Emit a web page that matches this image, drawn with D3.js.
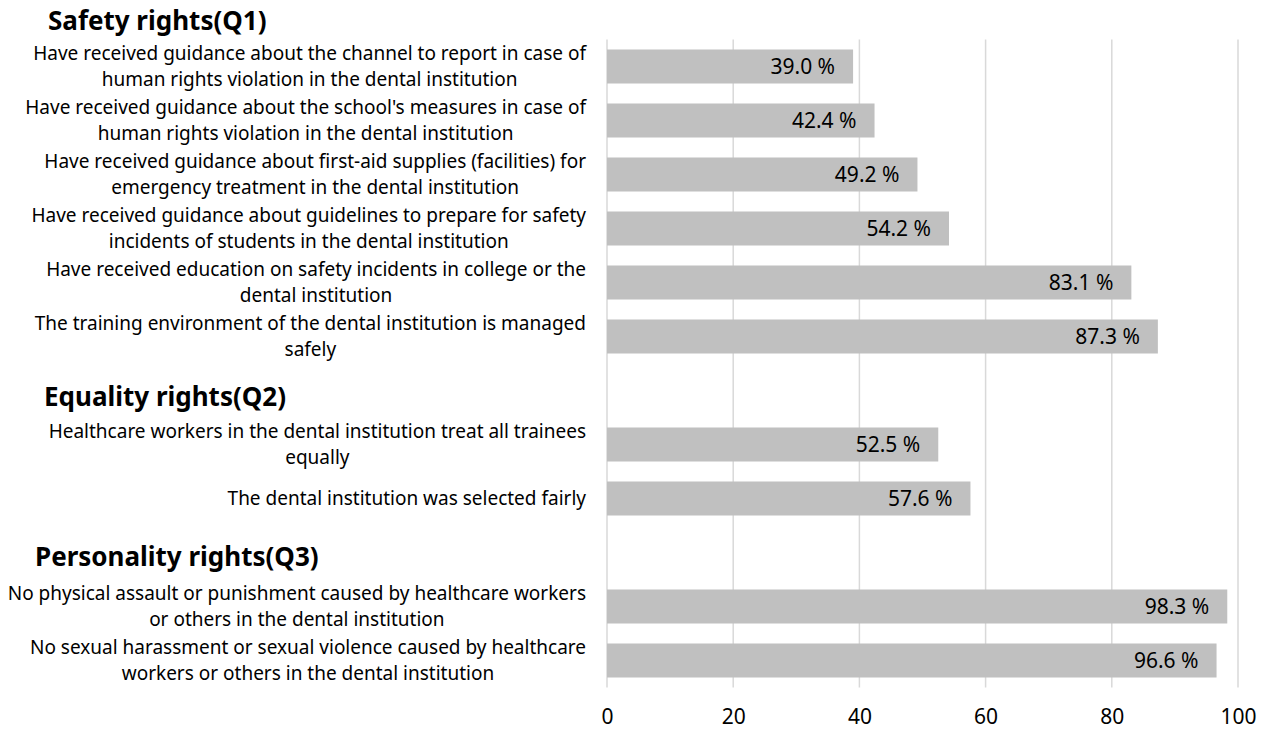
<!DOCTYPE html>
<html>
<head>
<meta charset="utf-8">
<script src="https://cdn.jsdelivr.net/npm/d3@7"></script>
<style>
  body { margin: 0; background: #fff; }
  text { font-family: "Noto Sans", sans-serif; fill: #000; }
</style>
</head>
<body>
<div id="chart"></div>
<script>
// data
var sections = ["Safety rights(Q1)", "Equality rights(Q2)", "Personality rights(Q3)"];
var labels = [
  ["Have received guidance about the channel to report in case of", "human rights violation in the dental institution"],
  ["Have received guidance about the school's measures in case of", "human rights violation in the dental institution"],
  ["Have received guidance about first-aid supplies (facilities) for", "emergency treatment in the dental institution"],
  ["Have received guidance about guidelines to prepare for safety", "incidents of students in the dental institution"],
  ["Have received education on safety incidents in college or the", "dental institution"],
  ["The training environment of the dental institution is managed", "safely"],
  ["Healthcare workers in the dental institution treat all trainees", "equally"],
  ["The dental institution was selected fairly"],
  ["No physical assault or punishment caused by healthcare workers", "or others in the dental institution"],
  ["No sexual harassment or sexual violence caused by healthcare", "workers or others in the dental institution"]
];
var groups = [0, 0, 0, 0, 0, 0, 1, 1, 2, 2];
var values = [39.0, 42.4, 49.2, 54.2, 83.1, 87.3, 52.5, 57.6, 98.3, 96.6];
var xTicks = [0, 20, 40, 60, 80, 100];

var width = 1266, height = 730;
var plot = {left: 607, right: 1238, top: 39.5, bottom: 687.5};
var labelRight = 586;

// slots: one per bar, plus an empty slot before each new section
var slots = [];
groups.forEach(function(g, i) {
  if (i > 0 && g !== groups[i - 1]) slots.push("gap" + g);
  slots.push("row" + i);
});

var x = d3.scaleLinear().domain([0, 100]).range([plot.left, plot.right]);
var y = d3.scaleBand().domain(slots).range([plot.top, plot.bottom]).paddingInner(0.37).paddingOuter(0.185);

var svg = d3.select("#chart").append("svg")
  .attr("width", width).attr("height", height);

// gridlines
svg.append("g").selectAll("line")
  .data(xTicks)
  .join("line")
  .attr("x1", function(d) { return x(d); })
  .attr("x2", function(d) { return x(d); })
  .attr("y1", plot.top)
  .attr("y2", plot.bottom)
  .attr("stroke", "#d9d9d9")
  .attr("stroke-width", 1.5);

// bars
svg.append("g").selectAll("rect")
  .data(values)
  .join("rect")
  .attr("x", x(0))
  .attr("y", function(d, i) { return y("row" + i); })
  .attr("width", function(d) { return x(d) - x(0); })
  .attr("height", y.bandwidth())
  .attr("fill", "#c0c0c0");

// value labels inside bar ends
svg.append("g").selectAll("text")
  .data(values)
  .join("text")
  .attr("x", function(d) { return x(d) - 18; })
  .attr("y", function(d, i) { return y("row" + i) + y.bandwidth() / 2; })
  .attr("dy", "0.35em")
  .attr("text-anchor", "end")
  .attr("font-size", "21px")
  .text(function(d) { return d.toFixed(1) + " %"; });

// x axis tick labels
var xAxis = d3.axisBottom(x).tickValues(xTicks).tickSize(0).tickPadding(0);
var ax = svg.append("g")
  .attr("transform", "translate(0," + (plot.bottom + 29) + ")")
  .call(xAxis);
ax.select(".domain").remove();
ax.selectAll("text")
  .attr("font-size", "21px")
  .attr("font-family", "Noto Sans, sans-serif")
  .attr("fill", "#000")
  .attr("dy", "0.35em");

// category labels, lines centred within a right-aligned block
var lab = svg.append("g").selectAll("text")
  .data(labels)
  .join("text")
  .attr("font-size", "19px")
  .attr("text-anchor", "middle");

lab.each(function(lines, i) {
  var t = d3.select(this);
  var cy = y("row" + i) + y.bandwidth() / 2;
  var lh = 26;
  lines.forEach(function(line, k) {
    t.append("tspan")
      .attr("x", 0)
      .attr("y", cy + (k - (lines.length - 1) / 2) * lh)
      .attr("dy", "0.35em")
      .text(line);
  });
  var w = d3.max(t.selectAll("tspan").nodes(), function(n) { return n.getComputedTextLength(); });
  t.selectAll("tspan").attr("x", labelRight - w / 2);
});

// section headers
var headerPos = [
  {x: 48, y: 21},
  {x: 44, y: y("gap1") + y.bandwidth() / 2 + 6},
  {x: 35, y: y("gap2") + y.bandwidth() / 2 + 4}
];
svg.append("g").selectAll("text")
  .data(sections)
  .join("text")
  .attr("x", function(d, i) { return headerPos[i].x; })
  .attr("y", function(d, i) { return headerPos[i].y; })
  .attr("dy", "0.35em")
  .attr("font-family", "'Noto Sans CJK KR', 'Noto Sans', sans-serif")
  .attr("font-size", "26px")
  .attr("font-weight", "bold")
  .text(function(d) { return d; });
</script>
</body>
</html>
